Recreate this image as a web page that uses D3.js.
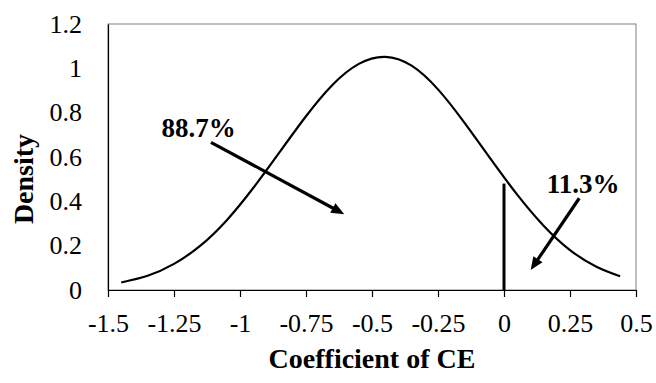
<!DOCTYPE html>
<html>
<head>
<meta charset="utf-8">
<script src="https://cdn.jsdelivr.net/npm/d3@7"></script>
<style>
  html, body { margin: 0; padding: 0; background: #fff; }
  svg { display: block; font-family: "Liberation Serif", "Times New Roman", serif; }
</style>
</head>
<body>
<svg id="chart" width="656" height="383"></svg>
<script>
// Posterior density of the CE coefficient
const coefX = [-1.45, -1.35, -1.25, -1.15, -1.05, -0.95, -0.85, -0.75, -0.65, -0.55,
               -0.45, -0.35, -0.25, -0.15, -0.05, 0.05, 0.15, 0.25, 0.35, 0.44];
const density = [0.034, 0.064, 0.118, 0.200, 0.315, 0.460, 0.622, 0.784, 0.925, 1.020,
                 1.052, 1.012, 0.905, 0.755, 0.590, 0.430, 0.290, 0.180, 0.105, 0.062];

// Cut-off marker at zero
const cutX = 0;
const cutHeight = 0.48;

// Axis ticks
const xTicks = [-1.5, -1.25, -1, -0.75, -0.5, -0.25, 0, 0.25, 0.5];
const xTickLabels = ["-1.5", "-1.25", "-1", "-0.75", "-0.5", "-0.25", "0", "0.25", "0.5"];
const yTicks = [0, 0.2, 0.4, 0.6, 0.8, 1, 1.2];
const yTickLabels = ["0", "0.2", "0.4", "0.6", "0.8", "1", "1.2"];

// Share annotations: label text, label anchor, arrow start, arrow tip (data units)
const shareLabels = ["88.7%", "11.3%"];
const labelPos = [[-1.297, 0.692], [0.162, 0.436]];
const arrowFrom = [[-1.110, 0.666], [0.285, 0.414]];
const arrowTo = [[-0.605, 0.342], [0.101, 0.090]];

const svg = d3.select("#chart");
const margin = { left: 108, top: 24, right: 20, bottom: 93 };
const W = 656, H = 383;

const x = d3.scaleLinear().domain([-1.5, 0.5]).range([margin.left, W - margin.right]);
const y = d3.scaleLinear().domain([0, 1.2]).range([H - margin.bottom, margin.top]);

// Plot-area frame (grey top/right)
svg.append("rect")
  .attr("x", x(-1.5)).attr("y", y(1.2))
  .attr("width", x(0.5) - x(-1.5)).attr("height", y(0) - y(1.2))
  .attr("fill", "none").attr("stroke", "#7f7f7f").attr("stroke-width", 1);

// X axis
const xAxis = d3.axisBottom(x)
  .tickValues(xTicks)
  .tickFormat((d, i) => xTickLabels[i])
  .tickSizeInner(7).tickSizeOuter(0).tickPadding(17);
const gx = svg.append("g").attr("transform", `translate(0,${y(0)})`).call(xAxis);
gx.select(".domain").attr("stroke", "#000").attr("stroke-width", 1.2);
gx.selectAll(".tick line").attr("stroke", "#000").attr("stroke-width", 1.2);
gx.selectAll(".tick text")
  .attr("font-family", "Liberation Serif, Times New Roman, serif")
  .attr("font-size", 26).attr("fill", "#000");

// Y axis
const yAxis = d3.axisLeft(y)
  .tickValues(yTicks)
  .tickFormat((d, i) => yTickLabels[i])
  .tickSize(0).tickPadding(26);
const gy = svg.append("g").attr("transform", `translate(${x(-1.5)},0)`).call(yAxis);
gy.select(".domain").attr("stroke", "#000").attr("stroke-width", 1.2);
gy.selectAll(".tick text")
  .attr("font-family", "Liberation Serif, Times New Roman, serif")
  .attr("font-size", 26).attr("fill", "#000");

// Axis titles
svg.append("text")
  .attr("x", (x(-1.5) + x(0.5)) / 2).attr("y", 368)
  .attr("text-anchor", "middle")
  .attr("font-size", 28).attr("font-weight", "bold")
  .text("Coefficient of CE");
svg.append("text")
  .attr("transform", "translate(33,179) rotate(-90)")
  .attr("text-anchor", "middle")
  .attr("font-size", 28).attr("font-weight", "bold")
  .text("Density");

// Density curve
const pts = coefX.map((v, i) => [v, density[i]]);
svg.append("path")
  .datum(pts)
  .attr("fill", "none").attr("stroke", "#000").attr("stroke-width", 2.2)
  .attr("d", d3.line().x(d => x(d[0])).y(d => y(d[1])).curve(d3.curveNatural));

// Cut-off line at zero
svg.append("line")
  .attr("x1", x(cutX)).attr("x2", x(cutX))
  .attr("y1", y(0)).attr("y2", y(cutHeight))
  .attr("stroke", "#000").attr("stroke-width", 3);

// Arrows with filled heads
const headLen = 13, headHalf = 5.5;
shareLabels.forEach((lab, i) => {
  const x0 = x(arrowFrom[i][0]), y0 = y(arrowFrom[i][1]);
  const x1 = x(arrowTo[i][0]), y1 = y(arrowTo[i][1]);
  const dx = x1 - x0, dy = y1 - y0, len = Math.hypot(dx, dy);
  const ux = dx / len, uy = dy / len;
  const bx = x1 - ux * headLen, by = y1 - uy * headLen;
  svg.append("line")
    .attr("x1", x0).attr("y1", y0).attr("x2", bx + ux * 2).attr("y2", by + uy * 2)
    .attr("stroke", "#000").attr("stroke-width", 3.2);
  svg.append("path")
    .attr("d", `M${x1},${y1}L${bx - uy * headHalf},${by + ux * headHalf}L${bx + uy * headHalf},${by - ux * headHalf}Z`)
    .attr("fill", "#000");
  svg.append("text")
    .attr("x", x(labelPos[i][0])).attr("y", y(labelPos[i][1]))
    .attr("font-size", 27).attr("font-weight", "bold")
    .text(lab);
});
</script>
</body>
</html>
